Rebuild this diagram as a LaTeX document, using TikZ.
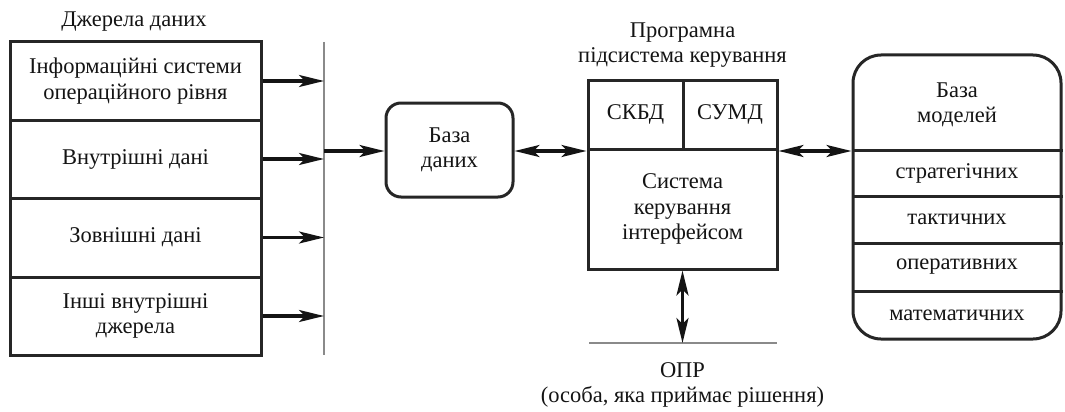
\documentclass[tikz,border=0pt]{standalone}
\usepackage{fontspec}
\setmainfont{Liberation Serif}
\usetikzlibrary{arrows.meta,calc}

\definecolor{frame}{HTML}{262626}
\definecolor{rail}{HTML}{8A8A8A}
\definecolor{ink}{HTML}{141414}

\tikzset{
  x=1pt, y=-1pt,
  every node/.style={font=\fontsize{22.5}{25.5}\selectfont, text=ink, align=center, inner sep=0pt},
  cell/.style={draw=frame, line width=3pt, minimum width=#1},
  tip/.tip={Stealth[length=25pt,width=12pt,inset=6pt]},
  flow/.style={draw=ink, line width=3.4pt, -tip},
  duo/.style={draw=ink, line width=3.4pt, tip-tip},
  railline/.style={draw=rail, line width=2.6pt},
}

\begin{document}
\begin{tikzpicture}
\useasboundingbox (0,0) rectangle (1065,412);

% data sources column
\node at (134,22) {Джерела даних};
\node[cell=251pt, minimum height=78pt] (src1) at (135.5,81) {Інформаційні системи\\операційного рівня};
\node[cell=251pt, minimum height=78pt] (src2) at (135.5,159) {Внутрішні дані};
\node[cell=251pt, minimum height=79pt] (src3) at (135.5,237.5) {Зовнішні дані};
\node[cell=251pt, minimum height=78pt] (src4) at (135.5,316) {Інші внутрішні\\джерела};

% collecting bus
\coordinate (busT) at (324,42);
\coordinate (busB) at (324,355);
\draw[railline] (busT) -- (busB);
\foreach \s in {src1,src2,src3,src4}
  \draw[flow] (\s.east) -- (\s.east -| busT);

% database
\node[cell=127pt, minimum height=94pt, rounded corners=15pt] (db) at (449.5,150) {База\\даних};
\draw[flow] (busT |- 0,151) -- (db.west |- 0,151);

% program control subsystem
\node at (682.5,45) {Програмна\\підсистема керування};
\node[cell=95pt, minimum height=69pt] (skbd) at (635.5,114.5) {СКБД};
\node[cell=94pt, minimum height=69pt] (sumd) at (730,114.5) {СУМД};
\node[cell=189pt, minimum height=120pt] (sys) at (682.5,209) {Система\\керування\\інтерфейсом};
\draw[duo] (db.east |- 0,151) -- (sys.north west |- 0,151);

% model base
\node[cell=208pt, minimum height=284pt, rounded corners=28pt] (mb) at (957,197) {};
\node (mbh) at (957,105) {База\\моделей};
\coordinate (d1) at (853,150);
\coordinate (d2) at (853,196);
\coordinate (d3) at (853,243);
\coordinate (d4) at (853,291);
\foreach \d in {d1,d2,d3,d4}
  \draw[draw=frame, line width=3pt] (\d) -- (\d -| mb.east);
\node (m1) at (957,173) {стратегічних};
\node (m2) at (957,219.5) {тактичних};
\node (m3) at (957,267) {оперативних};
\node (m4) at (957,315) {математичних};
\draw[duo] (sys.north east |- 0,151) -- (mb.west |- 0,151);

% decision maker
\coordinate (dmL) at (589,343);
\coordinate (dmR) at (777,343);
\draw[railline] (dmL) -- (dmR);
\draw[duo] (sys.south) -- (sys.south |- dmL);
\node (opr) at (682.5,385) {ОПР\\(особа, яка приймає рішення)};
\end{tikzpicture}
\end{document}
